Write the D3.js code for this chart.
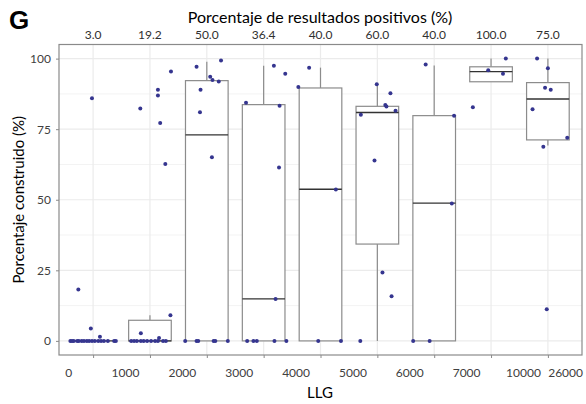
<!DOCTYPE html>
<html>
<head>
<meta charset="utf-8">
<script src="https://cdn.jsdelivr.net/npm/d3@7"></script>
<style>
  body { margin: 0; background: #fff; }
  svg text { font-family: Lato, "Open Sans", sans-serif; }
</style>
</head>
<body>
<figure id="boxplot" style="margin:0"></figure>
<script>
// LLG bins (tick labels sit on the bin edges) and % of positive results per bin
const llgBreaks = ["0", "1000", "2000", "3000", "4000", "5000", "6000", "7000", "10000", "26000"];
const positiveRate = ["3.0", "19.2", "50.0", "36.4", "40.0", "60.0", "40.0", "100.0", "75.0"];

// box statistics
const boxQ1 =       [0, 0,   0,    0,    0,    34.3, 0,    91.8, 71.2];
const boxMedian =   [0, 0,   73.0, 14.9, 53.7, 80.9, 48.8, 95.4, 85.7];
const boxQ3 =       [0, 7.3, 92.2, 83.7, 89.6, 83.1, 79.8, 97.1, 91.5];
const whiskerLow =  [0, 0,   0,    0,    0,    0,    0,    91.8, 69.2];
const whiskerHigh = [0, 9.1, 98.9, 97.5, 96.8, 90.8, 97.6, 100,  100];

// jittered points: value (%) and horizontal offset in category steps
const pointValues = [
  [0, 0, 0, 0, 0, 0, 0, 0, 0, 0, 0, 0, 0, 0, 0, 0, 0, 18.2, 86, 4.4, 1.5],
  [0, 0, 0, 0, 0, 0, 0, 0, 0, 0, 0, 82.3, 89, 86.9, 77.2, 95.4, 62.7, 9.1, 2.7, 1],
  [0, 0, 0, 0, 0, 0, 97.1, 99.3, 93.6, 92.4, 91.9, 89.0, 81, 65.1],
  [0, 0, 0, 0, 0, 97.5, 94.6, 84.4, 83.3, 61.4, 14.8],
  [0, 0, 96.8, 89.9, 53.6],
  [0, 90.9, 87.7, 83.6, 83.0, 81.5, 80.1, 63.9, 24.2, 15.8],
  [0, 0, 97.9, 79.8, 48.7],
  [100, 95.9, 94.6, 82.8],
  [100, 96.6, 89.7, 89.0, 82.1, 72, 68.8, 11.2]
];
const pointJitter = [
  [-0.40, -0.37, -0.34, -0.28, -0.25, -0.20, -0.16, -0.11, -0.07, -0.02, 0.03, 0.09, 0.14, 0.19, 0.26, 0.37, 0.40, -0.26, -0.02, -0.04, 0.12],
  [-0.33, -0.28, -0.23, -0.16, -0.11, -0.05, 0.02, 0.09, 0.14, 0.23, 0.28, -0.17, 0.14, 0.14, 0.18, 0.37, 0.27, 0.36, -0.16, 0.16],
  [-0.38, -0.18, -0.15, 0.12, 0.15, 0.37, -0.18, 0.25, 0.06, 0.10, 0.21, -0.11, -0.12, 0.09],
  [-0.29, -0.18, -0.12, 0.19, 0.40, 0.18, 0.38, -0.31, 0.28, 0.27, 0.21],
  [-0.04, 0.36, -0.20, -0.39, 0.27],
  [-0.30, -0.01, 0.23, 0.14, 0.16, 0.32, -0.29, -0.05, 0.09, 0.25],
  [-0.37, -0.08, -0.15, 0.35, 0.31],
  [0.26, -0.05, 0.21, -0.32],
  [-0.19, 0.00, -0.05, 0.05, -0.27, 0.34, -0.08, -0.02]
];

const margin = { top: 44.5, right: 4, bottom: 49, left: 59 };
const width = 586 - margin.left - margin.right;
const height = 404 - margin.top - margin.bottom;

const svg = d3.select("figure#boxplot")
  .append("svg")
  .attr("width", 586)
  .attr("height", 404);

const g = svg.append("g")
  .attr("transform", "translate(" + margin.left + "," + margin.top + ")");

const idx = positiveRate.map((d, i) => i);

const x = d3.scalePoint()
  .domain(idx)
  .range([0, width])
  .padding(0.6);
const step = x.step();

const y = d3.scaleLinear()
  .domain([-5, 105])
  .range([height, 0]);

// grid: minor then major
g.append("g")
  .selectAll("line")
  .data([12.5, 37.5, 62.5, 87.5])
  .enter().append("line")
  .attr("x1", 0).attr("x2", width)
  .attr("y1", d => y(d)).attr("y2", d => y(d))
  .attr("stroke", "#f3f3f3").attr("stroke-width", 1);

g.append("g")
  .selectAll("line")
  .data([0, 25, 50, 75, 100])
  .enter().append("line")
  .attr("x1", 0).attr("x2", width)
  .attr("y1", d => y(d)).attr("y2", d => y(d))
  .attr("stroke", "#ebebeb").attr("stroke-width", 1.2);

g.append("g")
  .selectAll("line")
  .data(idx)
  .enter().append("line")
  .attr("x1", d => x(d)).attr("x2", d => x(d))
  .attr("y1", 0).attr("y2", height)
  .attr("stroke", "#ebebeb").attr("stroke-width", 1.2);

// boxes
const boxW = step * 0.75;
const boxes = g.append("g");
idx.forEach(i => {
  const cx = x(i);
  boxes.append("line")
    .attr("x1", cx).attr("x2", cx)
    .attr("y1", y(boxQ3[i])).attr("y2", y(whiskerHigh[i]))
    .attr("stroke", "#8c8c8c").attr("stroke-width", 1.2);
  boxes.append("line")
    .attr("x1", cx).attr("x2", cx)
    .attr("y1", y(boxQ1[i])).attr("y2", y(whiskerLow[i]))
    .attr("stroke", "#8c8c8c").attr("stroke-width", 1.2);
  boxes.append("rect")
    .attr("x", cx - boxW / 2)
    .attr("y", y(boxQ3[i]))
    .attr("width", boxW)
    .attr("height", y(boxQ1[i]) - y(boxQ3[i]))
    .attr("fill", "#fff")
    .attr("stroke", "#8c8c8c").attr("stroke-width", 1.2);
  boxes.append("line")
    .attr("x1", cx - boxW / 2).attr("x2", cx + boxW / 2)
    .attr("y1", y(boxMedian[i])).attr("y2", y(boxMedian[i]))
    .attr("stroke", "#333").attr("stroke-width", 1.4);
});

// points
idx.forEach(i => {
  g.append("g")
    .selectAll("circle")
    .data(pointValues[i])
    .enter()
    .append("circle")
    .attr("cx", (d, j) => x(i) + pointJitter[i][j] * step)
    .attr("cy", d => y(d))
    .attr("r", 2)
    .attr("fill", "#35358f");
});

// panel border
g.append("rect")
  .attr("width", width).attr("height", height)
  .attr("fill", "none")
  .attr("stroke", "#8a8a8a").attr("stroke-width", 1.2);

// y axis
g.append("g")
  .call(d3.axisLeft(y)
    .tickValues([0, 25, 50, 75, 100])
    .tickSize(3)
    .tickPadding(5))
  .call(a => a.select(".domain").remove())
  .call(a => a.selectAll("line").attr("stroke", "#8a8a8a"))
  .call(a => a.selectAll("text").attr("fill", "#404040").style("font-size", "12px"));

// x axis ticks at category centres, labels on bin edges
g.append("g")
  .attr("transform", `translate(0,${height})`)
  .call(d3.axisBottom(x).tickSize(3).tickFormat(""))
  .call(a => a.select(".domain").remove())
  .call(a => a.selectAll("line").attr("stroke", "#8a8a8a"));

g.append("g")
  .selectAll("text")
  .data(llgBreaks)
  .enter().append("text")
  .attr("x", (d, i) => i < llgBreaks.length - 1 ? x(i) - step / 2 + 4 : width + 1)
  .attr("y", height + 22)
  .attr("text-anchor", (d, i) => i < llgBreaks.length - 1 ? "middle" : "end")
  .attr("fill", "#404040")
  .style("font-size", "12px")
  .text(d => d);

// top labels
g.append("g")
  .selectAll("text")
  .data(positiveRate)
  .enter().append("text")
  .attr("x", (d, i) => x(i))
  .attr("y", -6)
  .attr("text-anchor", "middle")
  .attr("fill", "#303030")
  .style("font-size", "12px")
  .text(d => d);

// titles
svg.append("text")
  .attr("x", 320).attr("y", 23)
  .attr("text-anchor", "middle")
  .style("font-size", "16px")
  .text("Porcentaje de resultados positivos (%)");

svg.append("text")
  .attr("x", 320).attr("y", 398)
  .attr("text-anchor", "middle")
  .style("font-size", "15px")
  .text("LLG");

svg.append("text")
  .attr("transform", "translate(24," + (margin.top + height / 2) + ") rotate(-90)")
  .attr("text-anchor", "middle")
  .style("font-size", "15px")
  .text("Porcentaje construido (%)");

svg.append("text")
  .attr("x", 9).attr("y", 29)
  .style("font-size", "26px")
  .style("font-weight", "bold")
  .style("font-family", "'Liberation Sans', Arial, sans-serif")
  .text("G");
</script>
</body>
</html>
